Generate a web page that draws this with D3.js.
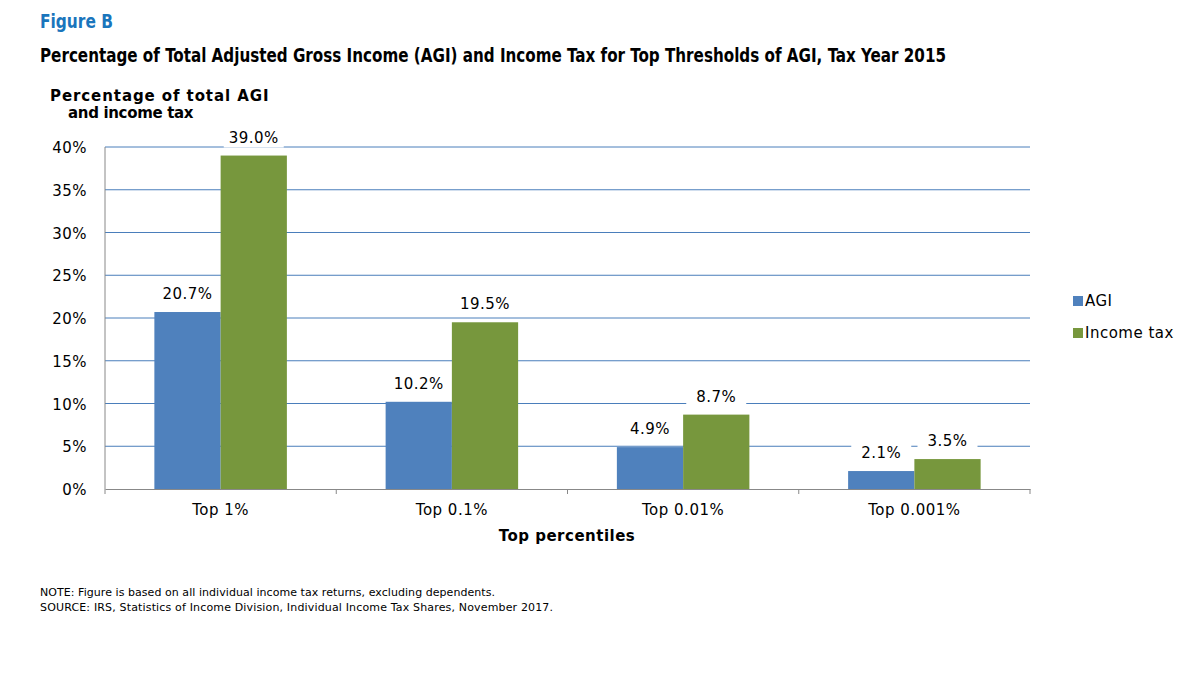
<!DOCTYPE html><html><head><meta charset="utf-8"><script src="https://cdn.jsdelivr.net/npm/d3@7"></script>
<style>body{margin:0;background:#fff}svg{font-family:"DejaVu Sans",sans-serif}.t{letter-spacing:0.5px}</style></head><body>
<svg id="c" width="1199" height="673"></svg>
<script>
const categories=["Top 1%","Top 0.1%","Top 0.01%","Top 0.001%"];
const agi=[20.7,10.2,4.9,2.1];
const tax=[39.0,19.5,8.7,3.5];
const yTicks=[0,5,10,15,20,25,30,35,40];
const seriesNames=["AGI","Income tax"];
const colors=["#4f81bd","#77973d"];
const svg=d3.select("#c");
const x=d3.scaleBand().domain(categories).range([105,1030]).paddingInner(0.427).paddingOuter(0.2135);
const y=d3.scaleLinear().domain([0,40]).range([489,147]);
const cf="DejaVu Sans Condensed, sans-serif";
svg.append("text").attr("x",40).attr("y",28).attr("fill","#1a75bc").attr("font-family",cf).attr("font-weight","bold").attr("font-size",20).attr("textLength",73).attr("lengthAdjust","spacingAndGlyphs").text("Figure B");
svg.append("text").attr("x",40).attr("y",62).attr("fill","#000").attr("font-family",cf).attr("font-weight","bold").attr("font-size",20).attr("textLength",906).attr("lengthAdjust","spacingAndGlyphs").text("Percentage of Total Adjusted Gross Income (AGI) and Income Tax for Top Thresholds of AGI, Tax Year 2015");
svg.append("text").attr("class","t").attr("x",50).attr("y",101).attr("font-weight","bold").attr("font-size",15).attr("textLength",219).text("Percentage of total AGI");
svg.append("text").attr("class","t").attr("x",68).attr("y",118).attr("font-weight","bold").attr("font-size",15).attr("textLength",126).text("and income tax");
svg.append("g").selectAll("line").data(yTicks.slice(1)).join("line").attr("x1",105).attr("x2",1030).attr("y1",d=>y(d)).attr("y2",d=>y(d)).attr("stroke","#4a7ebb").attr("stroke-width",1);
svg.append("g").selectAll("text").data(yTicks).join("text").attr("class","t").attr("x",87).attr("y",d=>y(d)+6).attr("text-anchor","end").attr("font-size",15).text(d=>d+"%");
svg.append("line").attr("x1",105).attr("x2",105).attr("y1",147).attr("y2",489).attr("stroke","#888");
const xa=svg.append("g").attr("transform","translate(0,489)").call(d3.axisBottom(x).tickSize(0).tickFormat(""));
xa.select(".domain").attr("stroke","#888");
const bounds=[105].concat(categories.map(c=>x(c)+x.bandwidth()+x.step()*x.paddingInner()/2));
svg.append("g").selectAll("line").data(bounds).join("line").attr("x1",d=>d).attr("x2",d=>d).attr("y1",489).attr("y2",494).attr("stroke","#888");
svg.append("g").selectAll("text").data(categories).join("text").attr("class","t").attr("x",d=>x(d)+x.bandwidth()/2).attr("y",515).attr("text-anchor","middle").attr("font-size",15).text(d=>d);
svg.append("text").attr("class","t").attr("x",567).attr("y",541).attr("text-anchor","middle").attr("font-weight","bold").attr("font-size",15).text("Top percentiles");
const sub=d3.scaleBand().domain([0,1]).range([0,x.bandwidth()]);
[agi,tax].forEach((vals,s)=>{
  const g=svg.append("g");
  g.selectAll("rect").data(vals).join("rect").attr("x",(d,i)=>x(categories[i])+sub(s)).attr("width",sub.bandwidth()).attr("y",d=>y(d)).attr("height",d=>y(0)-y(d)).attr("fill",colors[s]);
  const lab=g.selectAll("g.l").data(vals).join("g");
  lab.append("rect").attr("x",(d,i)=>x(categories[i])+sub(s)+sub.bandwidth()/2-30).attr("y",d=>y(d)-30).attr("width",60).attr("height",22).attr("fill","#fff");
  lab.append("text").attr("class","t").attr("x",(d,i)=>x(categories[i])+sub(s)+sub.bandwidth()/2).attr("y",d=>y(d)-13).attr("text-anchor","middle").attr("font-size",15).text(d=>d.toFixed(1)+"%");
});
const lg=svg.append("g");
seriesNames.forEach((n,i)=>{
  lg.append("rect").attr("x",1073).attr("y",296+i*32).attr("width",10).attr("height",10).attr("fill",colors[i]);
  lg.append("text").attr("class","t").attr("x",1085).attr("y",306+i*32).attr("font-size",15).text(n);
});
svg.append("text").attr("x",40).attr("y",596).attr("font-size",11).attr("textLength",455).text("NOTE: Figure is based on all individual income tax returns, excluding dependents.");
svg.append("text").attr("x",40).attr("y",611).attr("font-size",11).attr("textLength",513).text("SOURCE: IRS, Statistics of Income Division, Individual Income Tax Shares, November 2017.");
</script></body></html>
